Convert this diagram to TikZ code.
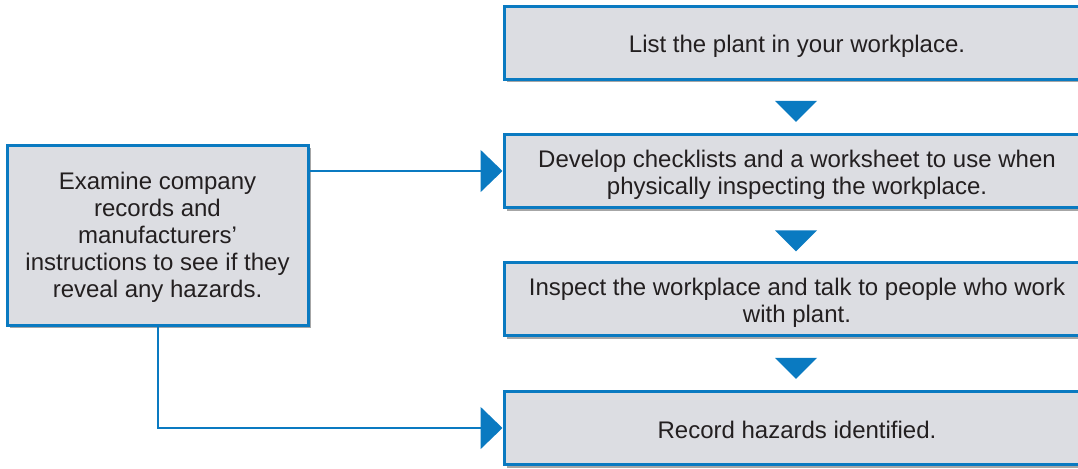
\documentclass[tikz,border=0pt]{standalone}
\usepackage{fontspec}
\setmainfont{Liberation Sans}
\usetikzlibrary{arrows.meta,shapes.geometric,shadows}
\definecolor{boxblue}{HTML}{0A7AC1}
\definecolor{boxgrey}{HTML}{DCDDE2}
\definecolor{inkgrey}{HTML}{231F20}
\tikzstyle{stepbox}=[shape=rectangle,
                draw=boxblue,
                fill=boxgrey,
                line width=1.5pt,
                minimum width=310pt,
                minimum height=36.5pt,
                drop shadow={shadow xshift=1.5pt,shadow yshift=-1.5pt,
                             fill=black,opacity=0.35}]
\tikzstyle{steptext}=[text=inkgrey,
                align=center,
                inner sep=0pt,
                text depth=0pt,
                font=\fontsize{12pt}{13.5pt}\selectfont]
\tikzstyle{sidebox}=[stepbox,
                steptext,
                minimum width=150.5pt,
                minimum height=90pt]
\tikzstyle{downtri}=[shape=isosceles triangle,
                fill=boxblue,
                draw=none,
                inner sep=0pt,
                isosceles triangle stretches,
                shape border rotate=270,
                minimum width=21pt,
                minimum height=10.5pt]
\tikzstyle{link}=[draw=boxblue,
                line width=1pt,
                -{Triangle[length=11pt,width=21pt]}]

\begin{document}
\begin{tikzpicture}[x=0.5pt,y=-0.5pt]
\useasboundingbox (0,0) rectangle (1078,468);
\clip (0,0) rectangle (1078,468);

% steps on the right (boxes run off the right edge)
\node[stepbox] (plant)   at (814,42.5) {};
\node[stepbox] (checks)  at (814,171)  {};
\node[stepbox] (inspect) at (814,299)  {};
\node[stepbox] (record)  at (814,428)  {};

% step texts
\node[steptext] (plantT)   at (797,44)    {List the plant in your workplace.};
\node[steptext] (checksT)  at (797,172.5) {Develop checklists and a worksheet to use when\\physically inspecting the workplace.};
\node[steptext] (inspectT) at (797,300.5) {Inspect the workplace and talk to people who work\\with plant.};
\node[steptext] (recordT)  at (797,429.5) {Record hazards identified.};

% records box on the left
\node[sidebox] (records) at (157.5,235) {Examine company\\records and\\manufacturers’\\instructions to see if they\\reveal any hazards.};

% down triangles between the steps
\node[downtri] (t1) at (796,109.5) {};
\node[downtri] (t2) at (796,239)   {};
\node[downtri] (t3) at (796,366.5) {};

% links from the records box
\draw[link] (records.east |- checks.west) -- (checks.west);
\draw[link] (records.south) |- (record.west);

\end{tikzpicture}
\end{document}
